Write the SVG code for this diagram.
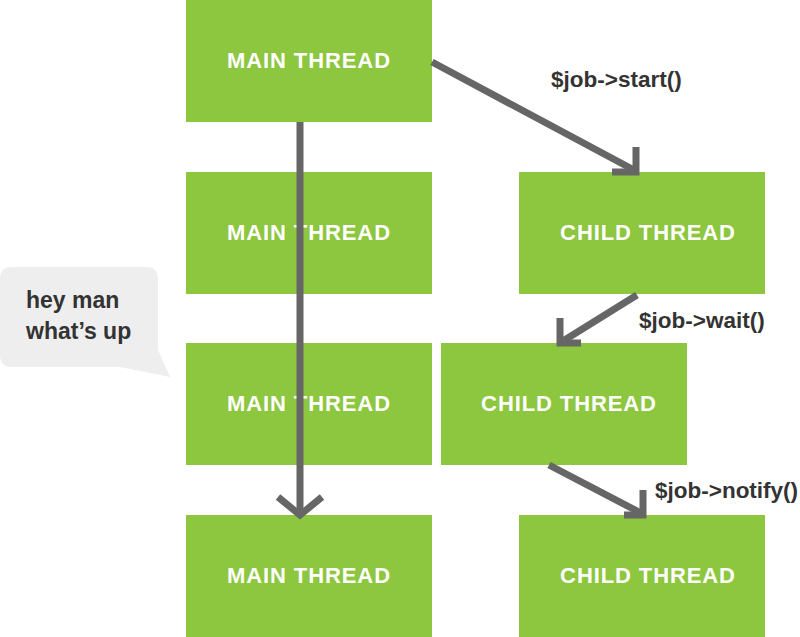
<svg xmlns="http://www.w3.org/2000/svg" width="800" height="637" viewBox="0 0 800 637">
<style>
.box{fill:#8dc63f}
.bt{font-family:"Liberation Sans",Arial,sans-serif;font-weight:bold;font-size:22px;fill:#fff;text-anchor:middle;letter-spacing:0.9px}
.lbl{font-family:"Liberation Sans",Arial,sans-serif;font-weight:bold;font-size:22.5px;fill:#333}
.bub{font-family:"Liberation Sans",Arial,sans-serif;font-weight:bold;font-size:23px;fill:#333}
.ln{stroke:#666;stroke-width:7;fill:none}
</style>
<rect width="800" height="637" fill="#fff"/>
<g id="bubble">
<path d="M12,267 H146 Q158,267 158,279 V350 L170,377 L120,367 H12 Q0,367 0,355 V279 Q0,267 12,267 Z" fill="#eeeeee"/>
<text class="bub" x="26" y="308">hey man</text>
<text class="bub" x="26" y="339">what’s up</text>
</g>
<g id="main1"><rect class="box" x="186" y="0" width="246" height="122"/><text class="bt" x="309" y="68">MAIN THREAD</text></g>
<g id="main2"><rect class="box" x="186" y="172" width="246" height="122"/><text class="bt" x="309" y="240">MAIN THREAD</text></g>
<g id="main3"><rect class="box" x="186" y="343" width="246" height="122"/><text class="bt" x="309" y="411">MAIN THREAD</text></g>
<g id="main4"><rect class="box" x="186" y="515" width="246" height="122"/><text class="bt" x="309" y="583">MAIN THREAD</text></g>
<g id="child1"><rect class="box" x="519" y="172" width="246" height="122"/><text class="bt" x="648" y="240">CHILD THREAD</text></g>
<g id="child2"><rect class="box" x="441" y="343" width="246" height="122"/><text class="bt" x="569" y="411">CHILD THREAD</text></g>
<g id="child3"><rect class="box" x="519" y="515" width="246" height="122"/><text class="bt" x="648" y="583">CHILD THREAD</text></g>
<g id="connectors">
<path class="ln" d="M300,122 V514"/>
<path class="ln" d="M278,497 L300,515 L322,497"/>
<path class="ln" d="M432,62 L634,170"/>
<path class="ln" d="M636,147 V172 H612"/>
<path class="ln" d="M637,295 L563,341"/>
<path class="ln" d="M560,318 V343 H581"/>
<path class="ln" d="M549,465 L641,513"/>
<path class="ln" d="M643,490 V515 H624"/>
<text class="lbl" x="551" y="87">$job-&gt;start()</text>
<text class="lbl" x="639" y="328">$job-&gt;wait()</text>
<text class="lbl" x="655" y="498">$job-&gt;notify()</text>
</g>
</svg>
